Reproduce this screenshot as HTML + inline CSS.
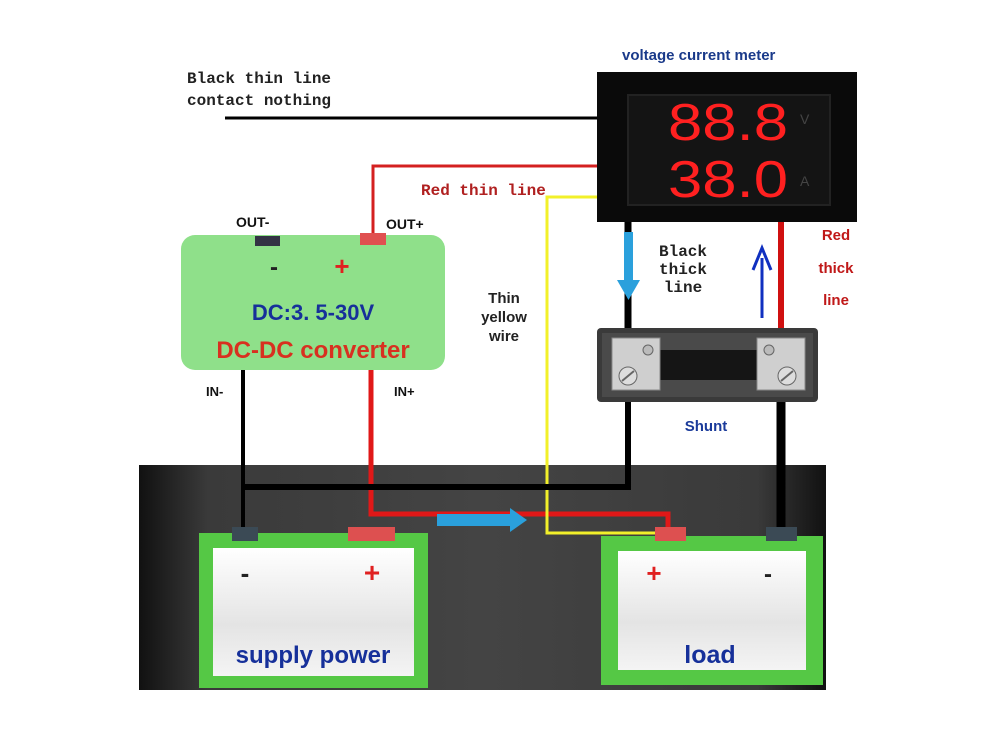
<!DOCTYPE html>
<html><head><meta charset="utf-8"><style>
html,body{margin:0;padding:0;background:#fff;width:1000px;height:741px;overflow:hidden}
svg{display:block}
.m{font-family:"Liberation Mono",monospace;font-weight:bold}
.s{font-family:"Liberation Sans",sans-serif;font-weight:bold}
</style></head><body>
<svg width="1000" height="741" viewBox="0 0 1000 741" xmlns="http://www.w3.org/2000/svg">
<defs>
<linearGradient id="bg" x1="0" x2="1" y1="0" y2="0">
<stop offset="0" stop-color="#111"/><stop offset="0.1" stop-color="#3a3a3a"/><stop offset="0.5" stop-color="#444"/><stop offset="0.9" stop-color="#3a3a3a"/><stop offset="1" stop-color="#111"/>
</linearGradient>
<linearGradient id="wh" x1="0" x2="0" y1="0" y2="1">
<stop offset="0" stop-color="#fff"/><stop offset="0.6" stop-color="#e4e4e4"/><stop offset="1" stop-color="#f4f4f4"/>
</linearGradient>
</defs>
<rect x="139" y="465" width="687" height="225" fill="url(#bg)"/>
<text x="187" y="83" class="m" font-size="16" fill="#222">Black thin line</text>
<text x="187" y="105" class="m" font-size="16" fill="#222">contact nothing</text>
<line x1="225" y1="118" x2="598" y2="118" stroke="#000" stroke-width="3"/>
<text x="622" y="60" class="s" font-size="15" fill="#1a3a8a">voltage  current meter</text>
<polyline points="373,236 373,166 598,166" fill="none" stroke="#d42020" stroke-width="3"/>
<text x="421" y="195" class="m" font-size="16" fill="#b02020">Red thin line</text>
<polyline points="371,370 371,514 668,514 668,530" fill="none" stroke="#e01818" stroke-width="5"/>
<polyline points="598,197 547,197 547,533 660,533" fill="none" stroke="#f2f02a" stroke-width="3"/>
<polyline points="243,370 243,530" fill="none" stroke="#000" stroke-width="4"/>
<polyline points="628,402 628,487 243,487" fill="none" stroke="#000" stroke-width="6"/>
<line x1="628" y1="222" x2="628" y2="330" stroke="#000" stroke-width="7"/>
<line x1="781" y1="402" x2="781" y2="528" stroke="#000" stroke-width="9"/>
<line x1="781" y1="222" x2="781" y2="330" stroke="#d01010" stroke-width="6"/>
<rect x="624" y="232" width="9" height="50" fill="#2aa0dc"/>
<polygon points="617,280 640,280 628.5,300" fill="#2aa0dc"/>
<line x1="762" y1="318" x2="762" y2="258" stroke="#1030c0" stroke-width="3"/>
<polyline points="753,270 762,248 771,270" fill="none" stroke="#1030c0" stroke-width="3"/>
<polygon points="437,514 510,514 510,508 527,520 510,532 510,526 437,526" fill="#2aa0dc"/>
<rect x="597" y="72" width="260" height="150" fill="#0a0a0a"/>
<rect x="628" y="95" width="202" height="110" fill="#141414" stroke="#222" stroke-width="2"/>
<text x="0" y="0" transform="translate(668,140) scale(1,1.3)" font-family="Liberation Sans,sans-serif" font-size="40" fill="#ff2020" textLength="120" lengthAdjust="spacingAndGlyphs">88.8</text>
<text x="0" y="0" transform="translate(668,197) scale(1,1.3)" font-family="Liberation Sans,sans-serif" font-size="40" fill="#ff2020" textLength="120" lengthAdjust="spacingAndGlyphs">38.0</text>
<text x="800" y="124" font-family="Liberation Sans,sans-serif" font-size="14" fill="#444">V</text>
<text x="800" y="186" font-family="Liberation Sans,sans-serif" font-size="14" fill="#444">A</text>
<text x="683" y="256" class="m" font-size="16" fill="#222" text-anchor="middle">Black</text>
<text x="683" y="274" class="m" font-size="16" fill="#222" text-anchor="middle">thick</text>
<text x="683" y="292" class="m" font-size="16" fill="#222" text-anchor="middle">line</text>
<text x="836" y="240" class="s" font-size="15" fill="#c01818" text-anchor="middle">Red</text>
<text x="836" y="273" class="s" font-size="15" fill="#c01818" text-anchor="middle">thick</text>
<text x="836" y="305" class="s" font-size="15" fill="#c01818" text-anchor="middle">line</text>
<text x="504" y="303" class="s" font-size="15" fill="#222" text-anchor="middle">Thin</text>
<text x="504" y="322" class="s" font-size="15" fill="#222" text-anchor="middle">yellow</text>
<text x="504" y="341" class="s" font-size="15" fill="#222" text-anchor="middle">wire</text>
<text x="706" y="431" class="s" font-size="15" fill="#1a3a9a" text-anchor="middle">Shunt</text>
<rect x="597" y="328" width="221" height="74" rx="4" fill="#3a3a3a"/>
<rect x="602" y="333" width="211" height="64" fill="#4a4a4a"/>
<rect x="658" y="350" width="100" height="30" fill="#151515"/>
<rect x="612" y="338" width="48" height="52" fill="#cfcfcf" stroke="#888"/>
<rect x="757" y="338" width="48" height="52" fill="#cfcfcf" stroke="#888"/>
<circle cx="648" cy="350" r="5" fill="#bbb" stroke="#666"/>
<circle cx="769" cy="350" r="5" fill="#bbb" stroke="#666"/>
<circle cx="628" cy="376" r="9" fill="#ddd" stroke="#666"/>
<circle cx="787" cy="376" r="9" fill="#ddd" stroke="#666"/>
<line x1="622" y1="381" x2="634" y2="371" stroke="#666" stroke-width="2"/>
<line x1="781" y1="381" x2="793" y2="371" stroke="#666" stroke-width="2"/>
<rect x="181" y="235" width="264" height="135" rx="14" fill="#8fe08a"/>
<rect x="255" y="236" width="25" height="10" fill="#334"/>
<rect x="360" y="233" width="26" height="12" fill="#e05050"/>
<text x="236" y="227" class="s" font-size="14" fill="#111">OUT-</text>
<text x="386" y="229" class="s" font-size="14" fill="#111">OUT+</text>
<text x="274" y="275" class="s" font-size="24" fill="#222" text-anchor="middle">-</text>
<text x="342" y="275" class="s" font-size="26" fill="#e02020" text-anchor="middle">+</text>
<text x="313" y="320" class="s" font-size="22" fill="#16309a" text-anchor="middle">DC:3. 5-30V</text>
<text x="313" y="358" class="s" font-size="24" fill="#d83020" text-anchor="middle">DC-DC converter</text>
<text x="206" y="396" class="s" font-size="13" fill="#111">IN-</text>
<text x="394" y="396" class="s" font-size="13" fill="#111">IN+</text>
<rect x="199" y="533" width="229" height="155" fill="#55c845"/>
<rect x="213" y="548" width="201" height="128" fill="url(#wh)"/>
<rect x="232" y="527" width="26" height="14" fill="#3b4a55"/>
<rect x="348" y="527" width="47" height="14" fill="#dd5050"/>
<text x="245" y="582" class="s" font-size="26" fill="#222" text-anchor="middle">-</text>
<text x="372" y="582" class="s" font-size="28" fill="#e02020" text-anchor="middle">+</text>
<text x="313" y="663" class="s" font-size="24" fill="#16309a" text-anchor="middle">supply power</text>
<rect x="601" y="536" width="222" height="149" fill="#55c845"/>
<rect x="618" y="551" width="188" height="119" fill="url(#wh)"/>
<rect x="655" y="527" width="31" height="14" fill="#dd5050"/>
<rect x="766" y="527" width="31" height="14" fill="#3b4a55"/>
<text x="654" y="582" class="s" font-size="26" fill="#e02020" text-anchor="middle">+</text>
<text x="768" y="582" class="s" font-size="24" fill="#222" text-anchor="middle">-</text>
<text x="710" y="663" class="s" font-size="25" fill="#16309a" text-anchor="middle">load</text>
</svg>
</body></html>
